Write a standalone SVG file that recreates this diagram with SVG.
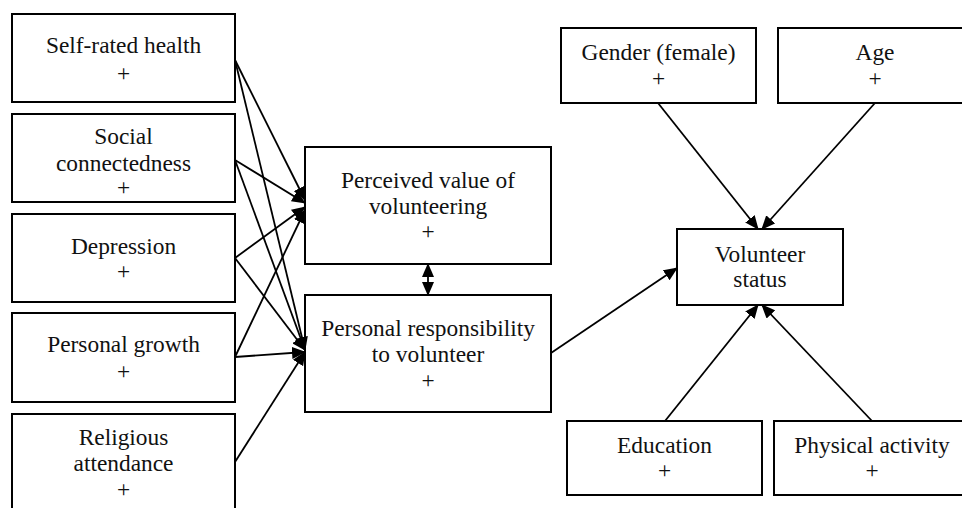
<svg xmlns="http://www.w3.org/2000/svg" width="962" height="508" viewBox="0 0 962 508">
<style>
.box{fill:#fff;stroke:#000;stroke-width:2}
.t text{font-family:'Liberation Serif',serif;font-size:23.4px;fill:#111;text-anchor:middle}
.c line{stroke:#000;stroke-width:1.8;marker-end:url(#ah)}
</style>
<defs>
<marker id="ah" markerUnits="userSpaceOnUse" markerWidth="14" markerHeight="12" viewBox="0 0 14 12" refX="13" refY="6" orient="auto-start-reverse">
<path d="M0,0 L14,6 L0,12 Z" fill="#000"/>
</marker>
</defs>
<rect width="962" height="508" fill="#fff"/>
<g class="t" font-family="Liberation Serif, serif">
<g id="self-rated-health"><rect class="box" x="12" y="14" width="223" height="88"/><text x="123.5" y="53">Self-rated health</text><text x="123.5" y="81">+</text></g>
<g id="social-connectedness"><rect class="box" x="12" y="114" width="223" height="88"/><text x="123.5" y="143.5">Social</text><text x="123.5" y="170.5">connectedness</text><text x="123.5" y="195">+</text></g>
<g id="depression"><rect class="box" x="12" y="214" width="223" height="88"/><text x="123.5" y="254">Depression</text><text x="123.5" y="279">+</text></g>
<g id="personal-growth"><rect class="box" x="12" y="313" width="223" height="89"/><text x="123.5" y="351.5">Personal growth</text><text x="123.5" y="379">+</text></g>
<g id="religious-attendance"><rect class="box" x="12" y="414" width="223" height="110"/><text x="123.5" y="445">Religious</text><text x="123.5" y="471">attendance</text><text x="123.5" y="497">+</text></g>
<g id="perceived-value"><rect class="box" x="305" y="147" width="246" height="117"/><text x="428" y="187.5">Perceived value of</text><text x="428" y="213.5">volunteering</text><text x="428" y="239">+</text></g>
<g id="personal-responsibility"><rect class="box" x="305" y="295" width="246" height="117"/><text x="428" y="335.5">Personal responsibility</text><text x="428" y="361.5">to volunteer</text><text x="428" y="387.5">+</text></g>
<g id="gender"><rect class="box" x="561" y="28" width="195" height="75"/><text x="658.5" y="59.5">Gender (female)</text><text x="658.5" y="86">+</text></g>
<g id="age"><rect class="box" x="778" y="28" width="195" height="75"/><text x="875" y="59.5">Age</text><text x="875" y="86">+</text></g>
<g id="volunteer-status"><rect class="box" x="677" y="229" width="166" height="76"/><text x="760" y="262">Volunteer</text><text x="760" y="287">status</text></g>
<g id="education"><rect class="box" x="567" y="421" width="195" height="74"/><text x="664.5" y="453">Education</text><text x="664.5" y="478">+</text></g>
<g id="physical-activity"><rect class="box" x="774" y="421" width="196" height="74"/><text x="872" y="453">Physical activity</text><text x="872" y="478">+</text></g>
</g>
<g id="connectors" class="c">
<line x1="235" y1="60" x2="305" y2="200"/>
<line x1="235" y1="60" x2="305" y2="350"/>
<line x1="235" y1="160" x2="305" y2="203"/>
<line x1="235" y1="160" x2="305" y2="350"/>
<line x1="235" y1="258" x2="305" y2="207"/>
<line x1="235" y1="258" x2="305" y2="350"/>
<line x1="235" y1="357" x2="305" y2="210"/>
<line x1="235" y1="357" x2="305" y2="352"/>
<line x1="235" y1="462" x2="305" y2="352"/>
<line x1="428" y1="264" x2="428" y2="295" style="marker-start:url(#ah)"/>
<line x1="551" y1="353" x2="677" y2="268"/>
<line x1="658" y1="103" x2="758" y2="229"/>
<line x1="875" y1="103" x2="762" y2="229"/>
<line x1="665" y1="421" x2="758" y2="305"/>
<line x1="872" y1="421" x2="762" y2="305"/>
</g>
</svg>
